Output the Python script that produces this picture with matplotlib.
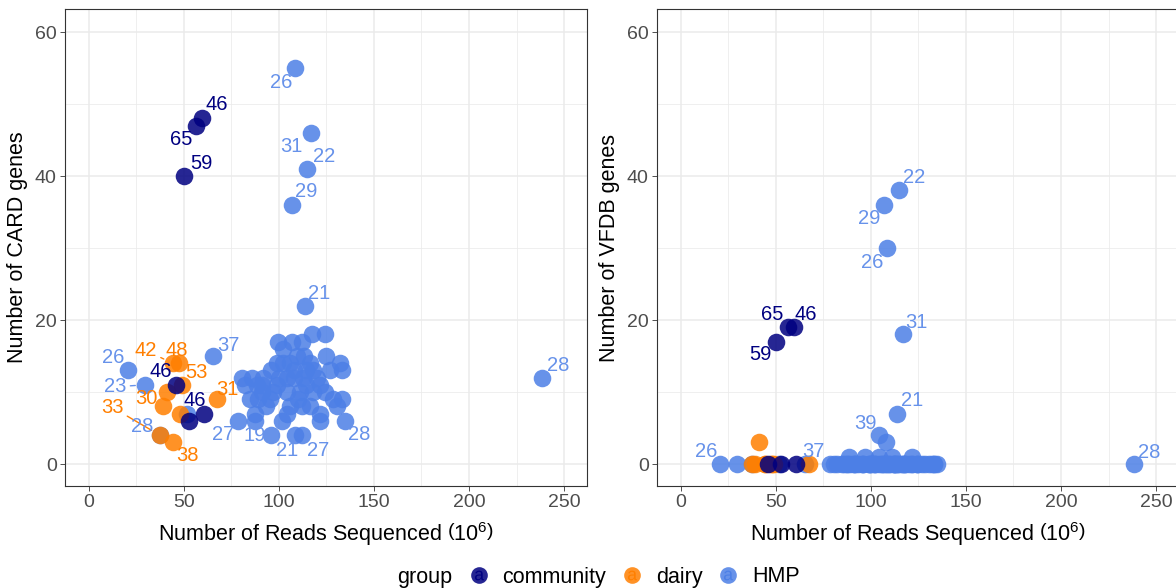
"""
Genes de resistencia (CARD) y virulencia (VFDB) frente a lecturas secuenciadas.
"""

import matplotlib
matplotlib.use("Agg")
import matplotlib.pyplot as plt
from matplotlib.lines import Line2D
from matplotlib.legend_handler import HandlerTuple

plt.rcParams["font.family"] = ["Liberation Sans", "DejaVu Sans"]
plt.rcParams["mathtext.fontset"] = "custom"
plt.rcParams["mathtext.rm"] = "Liberation Sans"
plt.rcParams["mathtext.it"] = "Liberation Sans:italic"

# ---- datos (millones de lecturas, genes CARD, genes VFDB, etiqueta) ----
community_reads = [59.5, 56.3, 50.0, 45.8, 52.6, 60.5]
community_card = [48, 47, 40, 11, 6, 7]
community_vfdb = [19, 19, 17, 0, 0, 0]
community_labels = ["46", "65", "59", "46", "", "46"]

dairy_reads = [44.0, 47.5, 48.8, 40.9, 38.8, 47.9, 67.2, 37.4, 44.0]
dairy_card = [14, 14, 11, 10, 8, 7, 9, 4, 3]
dairy_vfdb = [0, 0, 0, 3, 0, 0, 0, 0, 0]
dairy_labels = ["42", "48", "53", "", "30", "", "31", "33", "38"]

hmp_reads = [
    108.4, 116.7, 114.9, 106.7, 113.7, 238.3, 20.5, 29.5, 65.4, 78.6,
    96.0, 108.4, 112.0, 134.7, 37.5, 51.4, 104.4, 107.7,
    99.6, 106.6, 117.2, 124.2, 111.9, 102.3, 109.3, 125.0, 98.8, 102.3,
    116.3, 132.0, 118.0, 133.0, 126.8, 80.4, 85.6, 91.7, 82.0, 88.3,
    98.8, 112.8, 121.6, 84.7, 90.9, 97.0, 104.0, 111.0, 124.2, 128.6,
    133.0, 89.1, 95.3, 104.0, 101.4, 111.9, 116.3, 121.6, 121.6, 130.4,
    87.4, 87.4, 106.0, 113.0, 108.0, 114.0, 100.0, 93.0, 118.0, 110.0,
    106.0, 114.0, 120.0, 96.0, 91.0,
]
hmp_card = [
    55, 46, 41, 36, 22, 12, 13, 11, 15, 6,
    4, 4, 4, 6, 4, 7, 12, 13,
    17, 17, 18, 18, 17, 16, 15, 15, 14, 14,
    14, 14, 13, 13, 13, 12, 12, 12, 11, 11,
    11, 12, 11, 9, 10, 10, 10, 10, 10, 9,
    9, 9, 9, 7, 6, 8, 8, 7, 6, 8,
    7, 6, 14, 15, 12, 11, 12, 8, 10, 9,
    8, 13, 12, 13, 11,
]
hmp_vfdb = [
    30, 18, 38, 36, 7, 0, 0, 0, 0, 0,
    0, 0, 0, 0, 0, 0, 4, 3,
    0, 0, 0, 0, 0, 0, 0, 0, 0, 0,
    0, 0, 0, 0, 0, 0, 0, 0, 0, 1,
    0, 0, 1, 0, 0, 1, 1, 1, 0, 0,
    0, 0, 0, 0, 0, 0, 0, 0, 0, 0,
    0, 0, 0, 0, 0, 0, 0, 0, 0, 0,
    0, 0, 0, 0, 0,
]
hmp_labels = ["26", "31", "22", "29", "21", "28", "26", "23", "37", "27",
              "19", "21", "27", "28", "28", "", "39", ""] + [""] * 55

group_names = ["community", "dairy", "HMP"]
# color de los puntos (con transparencia) y de las etiquetas
group_colors = {"community": "#000080", "dairy": "#FF7F00", "HMP": "#4C7FE6"}
text_colors = {"community": "#000080", "dairy": "#FF7F00", "HMP": "#6792EA"}

# etiquetas visibles por panel: (grupo, indice, dx, dy en pixeles, con linea)
card_text = [
    ("community", 0, 15, -14, False), ("community", 1, -15, 14, False),
    ("community", 2, 17, -13, False), ("community", 3, -15, -13, False),
    ("community", 5, -9, -13, False),
    ("dairy", 0, -27, -13, True), ("dairy", 1, -2, -13, False),
    ("dairy", 2, 15, -12, False), ("dairy", 4, -16, -8, False),
    ("dairy", 6, 11, -10, False), ("dairy", 7, -48, -28, True),
    ("dairy", 8, 15, 13, False),
    ("HMP", 0, -14, 14, False), ("HMP", 1, -19, 14, False),
    ("HMP", 2, 17, -12, False), ("HMP", 3, 14, -13, False),
    ("HMP", 4, 14, -12, False), ("HMP", 5, 16, -12, False),
    ("HMP", 6, -15, -13, False), ("HMP", 7, -30, 2, True),
    ("HMP", 8, 15, -11, False), ("HMP", 9, -15, 14, False),
    ("HMP", 10, -17, 0, False), ("HMP", 11, -8, 15, False),
    ("HMP", 12, 16, 15, False), ("HMP", 13, 14, 14, False),
    ("HMP", 14, -18, -9, False),
]
vfdb_text = [
    ("community", 0, 12, -13, False), ("community", 1, -16, -13, False),
    ("community", 2, -16, 13, False),
    ("HMP", 0, -15, 14, False), ("HMP", 1, 14, -12, False),
    ("HMP", 2, 15, -13, False), ("HMP", 3, -15, 14, False),
    ("HMP", 4, 15, -13, False), ("HMP", 5, 15, -12, False),
    ("HMP", 6, -14, -13, False), ("HMP", 8, 8, -13, False),
    ("HMP", 16, -14, -12, False),
]


def tabla_grupos():
    return {
        "community": (community_reads, community_card, community_vfdb, community_labels),
        "dairy": (dairy_reads, dairy_card, dairy_vfdb, dairy_labels),
        "HMP": (hmp_reads, hmp_card, hmp_vfdb, hmp_labels),
    }


def dibujar_panel(ax, col, ylabel, textos):
    datos = tabla_grupos()
    for g in ["HMP", "dairy", "community"]:
        reads, card, vfdb, _ = datos[g]
        yy = card if col == "card" else vfdb
        ax.scatter(reads, yy, s=160, color=group_colors[g], alpha=0.85,
                   linewidths=0, zorder=3)

    for g, i, dx, dy, linea in textos:
        reads, card, vfdb, labels = datos[g]
        yy = card if col == "card" else vfdb
        c = text_colors[g]
        props = None
        if linea:
            props = dict(arrowstyle="-", color=c, lw=1.0, shrinkA=1, shrinkB=7)
        ax.annotate(labels[i], (reads[i], yy[i]), xytext=(dx * 0.72, -dy * 0.72),
                    textcoords="offset points", ha="center", va="center",
                    fontsize=14.5, color=c, arrowprops=props, zorder=4)

    ax.set_xlim(-12.6, 262.1)
    ax.set_ylim(-3.05, 63.2)
    ax.set_xticks([0, 50, 100, 150, 200, 250])
    ax.set_xticks([25, 75, 125, 175, 225], minor=True)
    ax.set_yticks([0, 20, 40, 60])
    ax.set_yticks([10, 30, 50], minor=True)
    ax.grid(which="major", color="#EBEBEB", lw=1.1, zorder=0)
    ax.grid(which="minor", color="#EBEBEB", lw=0.55, zorder=0)
    ax.set_axisbelow(True)
    ax.tick_params(which="major", length=3.5, width=0.6, color="#333333",
                   labelsize=14, labelcolor="#4D4D4D", pad=2.5)
    ax.tick_params(which="minor", length=0)
    for sp in ax.spines.values():
        sp.set_color("#333333")
        sp.set_linewidth(0.8)
    ax.set_xlabel("Number of Reads Sequenced $\\left(\\mathrm{10}^{6}\\right)$",
                  fontsize=15.5, labelpad=6)
    ax.set_ylabel(ylabel, fontsize=15.5, labelpad=5)


def main():
    fig = plt.figure(figsize=(11.76, 5.88), dpi=100)
    ax1 = fig.add_axes([65 / 1176, 1 - 486 / 588, 522 / 1176, 477 / 588])
    ax2 = fig.add_axes([657 / 1176, 1 - 486 / 588, 522 / 1176, 477 / 588])

    dibujar_panel(ax1, "card", "Number of CARD genes", card_text)
    dibujar_panel(ax2, "vfdb", "Number of VFDB genes", vfdb_text)

    # leyenda inferior
    handles = []
    for g in group_names:
        c = group_colors[g]
        punto = Line2D([], [], marker="o", ls="", ms=12, color=c, alpha=0.85,
                       markeredgewidth=0)
        letra = Line2D([], [], marker="$\\mathrm{a}$", ls="", ms=7, color=c,
                       markeredgewidth=0)
        handles.append((punto, letra))
    fig.text(397 / 1176, 1 - 577 / 588, "group", fontsize=15.5,
             ha="left", va="center")
    fig.legend(handles, group_names, loc="center left",
               bbox_to_anchor=(468 / 1176, 1 - 577 / 588), ncol=3,
               frameon=False, fontsize=15.5, handlelength=1.0,
               handletextpad=0.6, columnspacing=0.7, borderpad=0,
               borderaxespad=0, handler_map={tuple: HandlerTuple(ndivide=1)})

    fig.savefig("out.png", dpi=100)
    plt.close(fig)


if __name__ == "__main__":
    main()
